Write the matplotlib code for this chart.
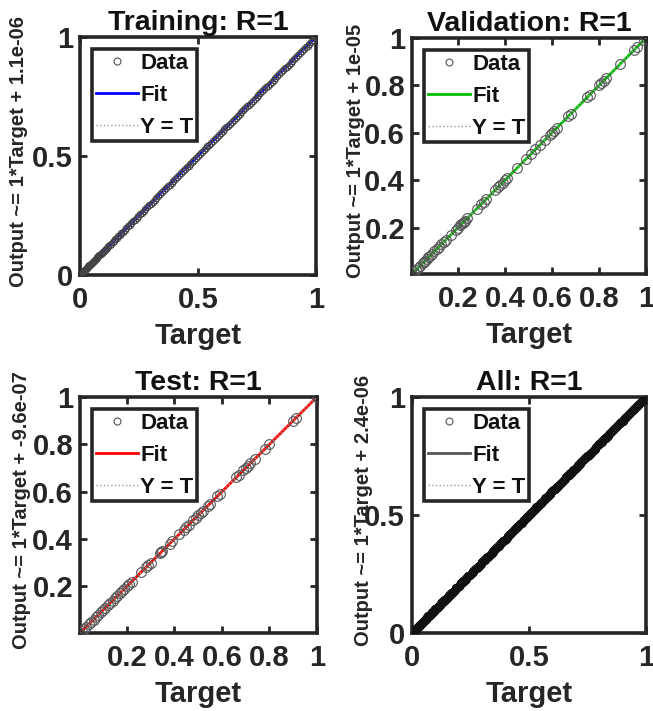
import numpy as np
import matplotlib
matplotlib.use("Agg")
import matplotlib.pyplot as plt
from matplotlib.lines import Line2D

plt.rcParams['font.family'] = ['Liberation Sans', 'DejaVu Sans']
plt.rcParams['font.weight'] = 'bold'

# targets per subset (outputs match targets, R = 1)
train_t = [0.0, 0.0, 0.0, 0.001, 0.002, 0.003, 0.004, 0.005, 0.006, 0.008, 0.01, 0.012,
           0.014, 0.016, 0.018, 0.02, 0.022, 0.025, 0.028, 0.03, 0.033, 0.036, 0.04, 0.043,
           0.046, 0.05, 0.054, 0.058, 0.062, 0.066, 0.07, 0.074, 0.078, 0.082, 0.087, 0.092,
           0.097, 0.1, 0.105, 0.11, 0.115, 0.12, 0.126, 0.132, 0.138, 0.144, 0.15, 0.156,
           0.162, 0.168, 0.175, 0.182, 0.19, 0.197, 0.204, 0.211, 0.218, 0.225, 0.232, 0.24,
           0.247, 0.255, 0.262, 0.27, 0.277, 0.285, 0.293, 0.3, 0.308, 0.316, 0.324, 0.332,
           0.34, 0.348, 0.356, 0.364, 0.372, 0.38, 0.388, 0.396, 0.404, 0.412, 0.42, 0.428,
           0.436, 0.444, 0.452, 0.46, 0.468, 0.476, 0.484, 0.492, 0.5, 0.508, 0.516, 0.524,
           0.532, 0.54, 0.548, 0.556, 0.564, 0.572, 0.58, 0.588, 0.596, 0.604, 0.612, 0.62,
           0.628, 0.636, 0.644, 0.652, 0.66, 0.668, 0.676, 0.684, 0.692, 0.7, 0.708, 0.716,
           0.724, 0.732, 0.74, 0.748, 0.756, 0.764, 0.772, 0.78, 0.788, 0.796, 0.804, 0.812,
           0.82, 0.828, 0.836, 0.844, 0.852, 0.86, 0.868, 0.876, 0.884, 0.892, 0.9, 0.908,
           0.916, 0.924, 0.932, 0.94, 0.948, 0.956, 0.964, 0.972, 0.98, 0.988, 0.995, 1.0]
val_t = [0.005, 0.012, 0.02, 0.03, 0.04, 0.05, 0.055, 0.06, 0.07, 0.075, 0.08, 0.09, 0.1,
         0.11, 0.12, 0.13, 0.14, 0.15, 0.17, 0.19, 0.2, 0.21, 0.215, 0.22, 0.225, 0.23,
         0.24, 0.28, 0.3, 0.31, 0.32, 0.36, 0.37, 0.38, 0.39, 0.4, 0.41, 0.45, 0.49, 0.51,
         0.53, 0.55, 0.57, 0.59, 0.6, 0.61, 0.62, 0.67, 0.68, 0.75, 0.76, 0.8, 0.81, 0.82,
         0.83, 0.89, 0.95, 0.96, 0.99, 1.0]
test_t = [0.003, 0.01, 0.02, 0.03, 0.04, 0.05, 0.06, 0.07, 0.08, 0.09, 0.1, 0.11, 0.12,
          0.13, 0.14, 0.15, 0.16, 0.17, 0.18, 0.19, 0.2, 0.21, 0.22, 0.26, 0.28, 0.29, 0.3,
          0.34, 0.345, 0.35, 0.38, 0.39, 0.42, 0.44, 0.45, 0.46, 0.48, 0.49, 0.5, 0.51, 0.52,
          0.54, 0.55, 0.58, 0.59, 0.66, 0.67, 0.69, 0.7, 0.71, 0.72, 0.74, 0.78, 0.8, 0.9,
          0.91, 1.0, 1.0]
all_t = train_t + val_t + test_t

titles = ['Training: R=1', 'Validation: R=1', 'Test: R=1', 'All: R=1']
intercepts = [1.1e-06, 1e-05, -9.6e-07, 2.4e-06]
ylabels = ['Output ~= 1*Target + 1.1e-06', 'Output ~= 1*Target + 1e-05',
           'Output ~= 1*Target + -9.6e-07', 'Output ~= 1*Target + 2.4e-06']
fit_colors = ['#0000ff', '#00c000', '#ff0000', '#555555']
datasets = [train_t, val_t, test_t, all_t]
ticks = [[0, 0.5, 1], [0.2, 0.4, 0.6, 0.8, 1], [0.2, 0.4, 0.6, 0.8, 1], [0, 0.5, 1]]
tick_labels = [['0', '0.5', '1'], ['0.2', '0.4', '0.6', '0.8', '1'],
               ['0.2', '0.4', '0.6', '0.8', '1'], ['0', '0.5', '1']]

W, H = 653, 711
boxes = [(80, 37, 236, 238), (412, 38, 234, 236), (80, 397, 237, 236), (412, 397, 234, 236)]
ylab_x = [-0.222, -0.202, -0.205, -0.168]
msize = [4.5, 7, 7, 5]
medge = ['#444444', '#555555', '#555555', '#111111']

fig = plt.figure(figsize=(W / 100, H / 100), dpi=100)
axcol = '#262626'

for i in range(4):
    x0, y0, w, h = boxes[i]
    ax = fig.add_axes([x0 / W, 1 - (y0 + h) / H, w / W, h / H])
    t = np.array(datasets[i])
    lo, hi = t.min(), t.max()
    b = intercepts[i]
    xs = np.array([lo, hi])
    ax.plot(xs, xs + b, color=fit_colors[i], lw=2, zorder=2)
    ax.plot(xs, xs, ls=':', color='#999999', lw=1, zorder=3)
    ax.plot(t, t, 'o', ms=msize[i], mfc='none', mec=medge[i], mew=0.8 if i != 3 else 1.5,
            zorder=4)
    ax.set_xlim(lo, hi)
    ax.set_ylim(lo, hi)
    ax.set_xticks(ticks[i])
    ax.set_xticklabels(tick_labels[i])
    ax.set_yticks(ticks[i])
    ax.set_yticklabels(tick_labels[i])
    ax.tick_params(direction='in', length=5, width=2, labelsize=21, colors=axcol,
                   top=True, right=True)
    ax.tick_params(axis='x', pad=8)
    ax.tick_params(axis='y', pad=5)
    for s in ax.spines.values():
        s.set_linewidth(2.6)
        s.set_color(axcol)
    ax.set_title(titles[i], fontsize=20.5, fontweight='bold', color='#111111', pad=5)
    ax.set_xlabel('Target', fontsize=21, fontweight='bold', color=axcol, labelpad=6)
    ax.set_ylabel(ylabels[i], fontsize=14.5, fontweight='bold', color=axcol)
    ax.yaxis.set_label_coords(ylab_x[i], 0.52)

    handles = [
        Line2D([], [], ls='none', marker='o', ms=5, mfc='none', mec='#555555', mew=0.8),
        Line2D([], [], color=fit_colors[i], lw=2),
        Line2D([], [], color='#999999', ls=':', lw=1),
    ]
    leg = ax.legend(handles, ['Data', 'Fit', 'Y = T'], loc='upper left', fontsize=16,
                    frameon=True, fancybox=False, framealpha=1, borderpad=0.15,
                    labelspacing=0.5, handlelength=1.9, handletextpad=0.1,
                    borderaxespad=0.55)
    leg.get_frame().set_linewidth(2.6)
    leg.get_frame().set_edgecolor(axcol)
    for txt in leg.get_texts():
        txt.set_color('#111111')

fig.savefig('out.png', dpi=100)
